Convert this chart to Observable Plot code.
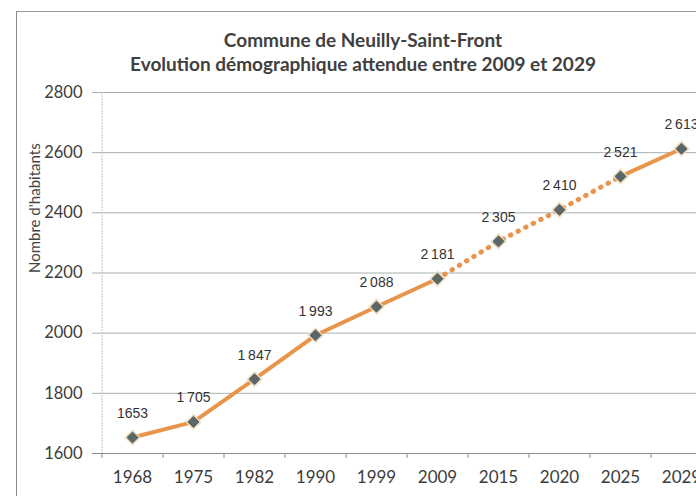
<!DOCTYPE html>
<html>
<head>
<meta charset="utf-8">
<script src="https://cdn.jsdelivr.net/npm/d3@7"></script>
<script src="https://cdn.jsdelivr.net/npm/@observablehq/plot@0.6"></script>
<style>
  html, body { margin: 0; padding: 0; background: #fff; overflow: hidden; }
  #wrap { position: relative; width: 696px; height: 496px; overflow: hidden; }
  #frame { position: absolute; left: 16px; top: 11px; width: 700px; height: 500px;
           border-left: 1.5px solid #8a8a8a; border-top: 1.5px solid #9a9a9a; }
  #title { position: relative; height: 75px; width: 696px;
           text-align: center; font-family: Lato, sans-serif; font-weight: bold; color: #404040; }
  #t1 { position: absolute; left: 30px; right: 0; top: 28px; font-size: 19px; line-height: 24px; }
  #t2 { position: absolute; left: 30px; right: 0; top: 52px; font-size: 19px; line-height: 24px; }
  svg { display: block; }
</style>
</head>
<body>
<div id="wrap">
  <div id="frame"></div>
  <div id="title">
    <div id="t1">Commune de Neuilly-Saint-Front</div>
    <div id="t2">Evolution démographique attendue entre 2009 et 2029</div>
  </div>
  <div id="chart"></div>
</div>
<script>
const years = ["1968", "1975", "1982", "1990", "1999", "2009", "2015", "2020", "2025", "2029"];
const population = [1653, 1705, 1847, 1993, 2088, 2181, 2305, 2410, 2521, 2613];
const valueLabels = ["1653", "1\u2009705", "1\u2009847", "1\u2009993", "2\u2009088", "2\u2009181", "2\u2009305", "2\u2009410", "2\u2009521", "2\u2009613"];
const yTicks = [1600, 1800, 2000, 2200, 2400, 2600, 2800];
const yLabel = "Nombre d'habitants";

const data = years.map((y, i) => ({year: y, pop: population[i], label: valueLabels[i]}));
const solidA = data.slice(0, 6);   // 1968–2009
const dotted = data.slice(5, 9);   // 2009–2025
const solidB = data.slice(8, 10);  // 2025–2029

const orange = "#e8944a";

const chart = Plot.plot({
  width: 696,
  height: 421,
  marginTop: 17,
  marginBottom: 43,
  marginLeft: 101,
  marginRight: -15,
  x: {type: "point", domain: years, padding: 0.5, range: [101, 711], label: null},
  y: {domain: [1600, 2800], ticks: yTicks, label: null},
  style: {fontFamily: "Lato, sans-serif", background: "transparent", overflow: "hidden"},
  marks: [
    Plot.ruleY(yTicks.slice(1), {stroke: "#a7b0b0", strokeWidth: 1, insetLeft: -9}),
    Plot.ruleX([years[0]], {dx: -30.5, stroke: "#c4c4c4", strokeDasharray: "2 1"}),
    Plot.ruleY([1600], {stroke: "#8c8c8c", strokeWidth: 1.2, insetLeft: -9}),
    Plot.axisX({tickSize: 5, dx: -30.5, tickFormat: () => "", stroke: "#8c8c8c", label: null}),
    Plot.axisX({tickSize: 0, tickPadding: 17, fontSize: 17, fill: "#3c3c3c", label: null}),
    Plot.axisY({ticks: yTicks, tickFormat: d => String(d), tickSize: 0, tickPadding: 19, fontSize: 16.5, fill: "#3c3c3c", label: null}),
    Plot.text([yLabel], {frameAnchor: "left", rotate: -90, dx: -66, fontSize: 15, fill: "#444"}),
    Plot.line(solidA, {x: "year", y: "pop", stroke: orange, strokeWidth: 4, strokeLinejoin: "round"}),
    Plot.line(dotted, {x: "year", y: "pop", stroke: orange, strokeWidth: 5, strokeDasharray: "0.5 8", strokeLinecap: "round"}),
    Plot.line(solidB, {x: "year", y: "pop", stroke: orange, strokeWidth: 4, strokeLinejoin: "round"}),
    Plot.dot(data, {x: "year", y: "pop", symbol: "diamond2", r: 7.5, fill: "#efd9bb", stroke: "none", fillOpacity: 0.85}),
    Plot.dot(data, {x: "year", y: "pop", symbol: "diamond2", r: 5, fill: "#5b6767", stroke: "#4d5858", strokeWidth: 0.8}),
    Plot.text(data, {x: "year", y: "pop", text: "label", dy: -24, fontSize: 14, fill: "#333",
                     fontFamily: "'Liberation Sans', Arial, sans-serif"})
  ]
});
document.getElementById("chart").appendChild(chart);
</script>
</body>
</html>
